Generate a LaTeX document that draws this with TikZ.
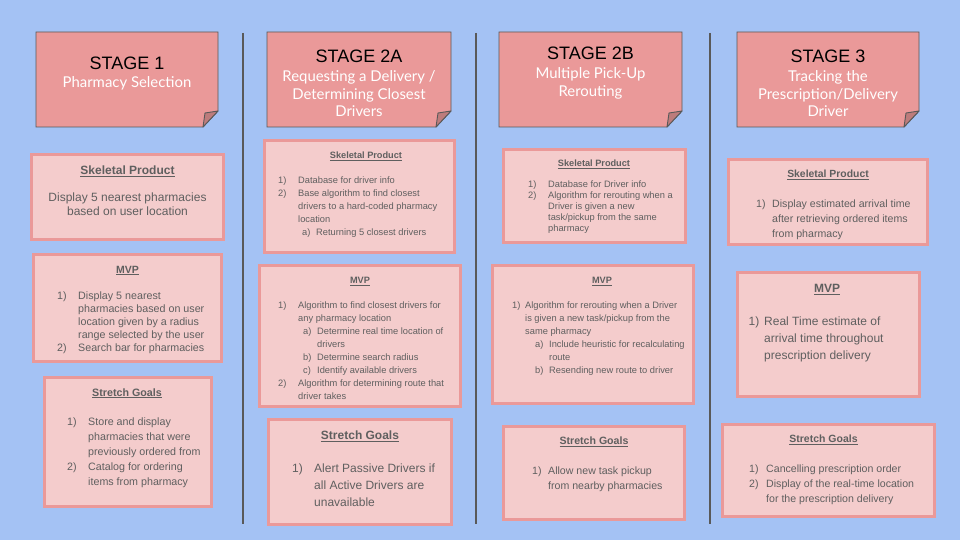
\documentclass[tikz,border=0pt]{standalone}
\usepackage{fontspec}
\setmainfont{Liberation Sans}
\newfontfamily\lato{Lato}
\definecolor{bgblue}{HTML}{A4C2F4}
\definecolor{notefill}{HTML}{EA9999}
\definecolor{noteline}{HTML}{595959}
\definecolor{foldfill}{HTML}{BD7C7C}
\definecolor{cardfill}{HTML}{F4CCCC}
\definecolor{cardline}{HTML}{EA9999}
\definecolor{txtgray}{HTML}{5F5F5F}
\definecolor{sepline}{HTML}{595959}
\newlength\lwd \newlength\sia \newlength\sib
\newcommand{\itm}[2]{\makebox[\lwd][l]{#1}#2}
\newcommand{\icont}[1]{\hspace*{\lwd}#1}
\newcommand{\sitm}[2]{\hspace*{\sia}\makebox[\sib][l]{#1}#2}
\newcommand{\scont}[1]{\hspace*{\sia}\hspace*{\sib}#1}
\newcommand{\lst}[1]{\begin{tabular}[t]{@{}l@{}}#1\end{tabular}}
\newcommand{\clst}[1]{\begin{tabular}[t]{@{}c@{}}#1\end{tabular}}
\tikzset{
  note/.style={fill=notefill, draw=noteline, line width=0.9pt, line join=miter},
  fold/.style={fill=foldfill, draw=noteline, line width=0.9pt, line join=round},
  card/.style={fill=cardfill, draw=cardline, line width=3pt, inner sep=0pt},
  sline/.style={draw=sepline, line width=1.1pt},
  stg/.style={inner sep=0pt, anchor=base, text=black, font=\fontsize{18}{20}\selectfont},
  sub/.style={inner sep=0pt, anchor=base, text=white, font=\lato\fontsize{14.9}{17.6}\selectfont},
  ttl/.style={inner sep=0pt, anchor=base, text=txtgray, font=\bfseries\fontsize{#1}{#1}\selectfont},
  body/.style n args={2}{inner sep=0pt, text=txtgray, font=\fontsize{#1}{#2}\selectfont}
}
\newcommand{\stagenote}[4]{%
  \draw[note] (#1,#2) -- (#3,#2) -- (#3,#4-16) -- (#3-15,#4) -- (#1,#4) -- cycle;
  \draw[fold] (#3-15,#4) -- (#3,#4-16) -- (#3-13,#4-14) -- cycle;}
\newcommand{\card}[5]{%
  \node[card, minimum width={#4-#2-3}, minimum height={#5-#3-3}] (#1) at ({(#2+#4)/2},{(#3+#5)/2}) {};}
\begin{document}
\begin{tikzpicture}[x=1pt,y=-1pt]
\fill[bgblue] (0,0) rectangle (960,540);
\useasboundingbox (0,0) rectangle (960,540);

% separators
\coordinate (v1t) at (243,33); \coordinate (v1b) at (243,524);
\coordinate (v2t) at (476,33); \coordinate (v2b) at (476,524);
\coordinate (v3t) at (710,33); \coordinate (v3b) at (710,524);
\draw[sline] (v1t) -- (v1b);
\draw[sline] (v2t) -- (v2b);
\draw[sline] (v3t) -- (v3b);

% stage notes
\stagenote{36}{32}{218}{127}
\stagenote{267}{32}{451}{127}
\stagenote{499}{32}{682}{127}
\stagenote{737}{32}{919}{127}

\node[stg] (st1) at (127,69.5) {STAGE 1};
\node[sub] (st1s) at (127,87.5) {\clst{Pharmacy Selection}};
\node[stg] (st2a) at (359,62.5) {STAGE 2A};
\node[sub] (st2as) at (359,81.5) {\clst{Requesting a Delivery /\\Determining Closest\\Drivers}};
\node[stg] (st2b) at (590.5,59.5) {STAGE 2B};
\node[sub] (st2bs) at (590.5,78.5) {\clst{Multiple Pick-Up\\Rerouting}};
\node[stg] (st3) at (828,62.5) {STAGE 3};
\node[sub] (st3s) at (828,81.5) {\clst{Tracking the\\Prescription/Delivery\\Driver}};

% cards
\card{s1sk}{30}{153}{225}{241}
\card{s1mvp}{32}{253}{223}{363}
\card{s1st}{43}{376}{213}{508}
\card{s2ask}{263}{139}{456}{254}
\card{s2amvp}{258}{264}{462}{408}
\card{s2ast}{267}{418}{453}{526}
\card{s2bsk}{502}{148}{687}{244}
\card{s2bmvp}{491}{264}{695}{405}
\card{s2bst}{502}{425}{686}{521}
\card{s3sk}{727}{158}{929}{246}
\card{s3mvp}{736}{271}{921}{398}
\card{s3st}{721}{423}{936}{518}

% stage 1
\node[ttl=12] (s1skT) at (127.5,174.3) {\underline{Skeletal Product}};
\node[body={12}{14}, anchor=base] (s1skB) at (127.5,201.6) {\clst{Display 5 nearest pharmacies\\based on user location}};
\node[ttl=10.5] (s1mvpT) at (127.5,273) {\underline{MVP}};
\node[body={10.7}{13}, anchor=base west] (s1mvpB) at (57,299.2) {\setlength\lwd{21pt}\lst{%
  \itm{1)}{Display 5 nearest}\\
  \icont{pharmacies based on user}\\
  \icont{location given by a radius}\\
  \icont{range selected by the user}\\
  \itm{2)}{Search bar for pharmacies}}};
\node[ttl=10.7] (s1stT) at (127,396) {\underline{Stretch Goals}};
\node[body={10.7}{15}, anchor=base west] (s1stB) at (67,425.2) {\setlength\lwd{21pt}\lst{%
  \itm{1)}{Store and display}\\
  \icont{pharmacies that were}\\
  \icont{previously ordered from}\\
  \itm{2)}{Catalog for ordering}\\
  \icont{items from pharmacy}}};

% stage 2A
\node[ttl=9.2] (s2askT) at (366,158.3) {\underline{Skeletal Product}};
\node[body={9.3}{13}, anchor=base west] (s2askB) at (278,183.8) {\setlength\lwd{20pt}\setlength\sia{24pt}\setlength\sib{14pt}\lst{%
  \itm{1)}{Database for driver info}\\
  \itm{2)}{Base algorithm to find closest}\\
  \icont{drivers to a hard-coded pharmacy}\\
  \icont{location}\\
  \sitm{a)}{Returning 5 closest drivers}}};
\node[ttl=9.2] (s2amvpT) at (360,283.3) {\underline{MVP}};
\node[body={9.3}{12.9}, anchor=base west] (s2amvpB) at (278,308.8) {\setlength\lwd{20pt}\setlength\sia{25pt}\setlength\sib{14pt}\lst{%
  \itm{1)}{Algorithm to find closest drivers for}\\
  \icont{any pharmacy location}\\
  \sitm{a)}{Determine real time location of}\\
  \scont{drivers}\\
  \sitm{b)}{Determine search radius}\\
  \sitm{c)}{Identify available drivers}\\
  \itm{2)}{Algorithm for determining route that}\\
  \icont{driver takes}}};
\node[ttl=12] (s2astT) at (360,439.3) {\underline{Stretch Goals}};
\node[body={12}{17}, anchor=base west] (s2astB) at (292,472.6) {\setlength\lwd{22pt}\lst{%
  \itm{1)}{Alert Passive Drivers if}\\
  \icont{all Active Drivers are}\\
  \icont{unavailable}}};

% stage 2B
\node[ttl=9.2] (s2bskT) at (594,166.3) {\underline{Skeletal Product}};
\node[body={9.3}{11}, anchor=base west] (s2bskB) at (528,187.8) {\setlength\lwd{20pt}\lst{%
  \itm{1)}{Database for Driver info}\\
  \itm{2)}{Algorithm for rerouting when a}\\
  \icont{Driver is given a new}\\
  \icont{task/pickup from the same}\\
  \icont{pharmacy}}};
\node[ttl=9.2] (s2bmvpT) at (602,283.3) {\underline{MVP}};
\node[body={9.3}{13}, anchor=base west] (s2bmvpB) at (512,308.8) {\setlength\lwd{13pt}\setlength\sia{23pt}\setlength\sib{14pt}\lst{%
  \itm{1)}{Algorithm for rerouting when a Driver}\\
  \icont{is given a new task/pickup from the}\\
  \icont{same pharmacy}\\
  \sitm{a)}{Include heuristic for recalculating}\\
  \scont{route}\\
  \sitm{b)}{Resending new route to driver}}};
\node[ttl=10.6] (s2bstT) at (594,444.8) {\underline{Stretch Goals}};
\node[body={10.6}{15}, anchor=base west] (s2bstB) at (532,474.2) {\setlength\lwd{16pt}\lst{%
  \itm{1)}{Allow new task pickup}\\
  \icont{from nearby pharmacies}}};

% stage 3
\node[ttl=10.4] (s3skT) at (828,177.7) {\underline{Skeletal Product}};
\node[body={10.6}{15}, anchor=base west] (s3skB) at (756,207.2) {\setlength\lwd{16pt}\lst{%
  \itm{1)}{Display estimated arrival time}\\
  \icont{after retrieving ordered items}\\
  \icont{from pharmacy}}};
\node[ttl=12] (s3mvpT) at (827,292.3) {\underline{MVP}};
\node[body={12}{17}, anchor=base west] (s3mvpB) at (748.5,325.6) {\setlength\lwd{15.5pt}\lst{%
  \itm{1)}{Real Time estimate of}\\
  \icont{arrival time throughout}\\
  \icont{prescription delivery}}};
\node[ttl=10.5] (s3stT) at (823.5,442.8) {\underline{Stretch Goals}};
\node[body={10.6}{15}, anchor=base west] (s3stB) at (749,472.2) {\setlength\lwd{17pt}\lst{%
  \itm{1)}{Cancelling prescription order}\\
  \itm{2)}{Display of the real-time location}\\
  \icont{for the prescription delivery}}};
\end{tikzpicture}
\end{document}
